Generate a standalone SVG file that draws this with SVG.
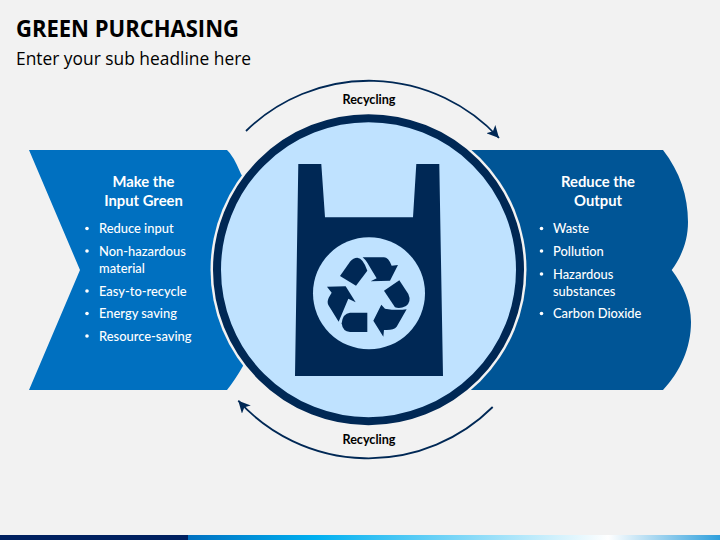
<svg xmlns="http://www.w3.org/2000/svg" width="720" height="540" viewBox="0 0 720 540">
<style>
text{font-family:"Lato","Carlito","Liberation Sans",sans-serif;}
.h{font-weight:700;font-size:14.8px;fill:#fff;text-anchor:middle}
.b{font-size:12.9px;fill:#fff;font-weight:500}
.l{font-weight:700;font-size:12.6px;fill:#000;text-anchor:middle}
.arc{fill:none;stroke:#002855;stroke-width:1.8;marker-end:url(#ah)}
.d{fill:#002855}
</style>
<defs>
<linearGradient id="g" x1="188" x2="720" y1="0" y2="0" gradientUnits="userSpaceOnUse">
<stop offset="0" stop-color="#0070c0"/><stop offset="0.24" stop-color="#00b0f0"/><stop offset="0.79" stop-color="#ffffff"/><stop offset="1" stop-color="#2e9fdc"/>
</linearGradient>
<marker id="ah" markerWidth="12" markerHeight="12" refX="10" refY="5" orient="auto" markerUnits="userSpaceOnUse" viewBox="0 0 10 10"><path d="M0 0L10 5L0 10L2.500 5Z" fill="#002855"/></marker>
</defs>
<rect width="720" height="540" fill="#f2f2f2"/>
<rect x="0" y="535" width="188" height="5" fill="#002060"/>
<rect x="188" y="535" width="532" height="5" fill="url(#g)"/>
<text x="16" y="36.500" font-size="23.500" font-weight="700" fill="#000" textLength="223" lengthAdjust="spacingAndGlyphs" style="font-family:'Open Sans',sans-serif">GREEN PURCHASING</text>
<text x="16" y="65" font-size="17.500" fill="#000" textLength="235" lengthAdjust="spacingAndGlyphs" style="font-family:'Open Sans',sans-serif">Enter your sub headline here</text>
<g id="connectors">
<path class="arc" d="M246 131A176 176 0 0 1 499 138"/>
<path class="arc" d="M492.700 407A176 176 0 0 1 238.300 400.700"/>
</g>
<g id="node-left">
<path d="M29 150H227Q233 155 241 174L300 270L243 366Q235 380 227 390H29L80 270Z" fill="#0070c0"/>
<text class="h" x="143.500" y="187">Make the</text><text class="h" x="143.500" y="206">Input Green</text>
<circle cx="87" cy="228.500" r="1.800" fill="#fff"/><text class="b" x="99" y="233">Reduce input</text>
<circle cx="87" cy="251" r="1.800" fill="#fff"/><text class="b" x="99" y="256">Non-hazardous</text><text class="b" x="99" y="273">material</text>
<circle cx="87" cy="291" r="1.800" fill="#fff"/><text class="b" x="99" y="296">Easy-to-recycle</text>
<circle cx="87" cy="313.500" r="1.800" fill="#fff"/><text class="b" x="99" y="318">Energy saving</text>
<circle cx="87" cy="336" r="1.800" fill="#fff"/><text class="b" x="99" y="341">Resource-saving</text>
</g>
<g id="node-right">
<path d="M440 150H663C680 172 688 196 688 222C688 240 682 256 671.700 270C683 285 691 302 691 322C691 348 680 372 663 390H440Z" fill="#005596"/>
<text class="h" x="598" y="187">Reduce the</text><text class="h" x="598" y="206">Output</text>
<circle cx="541.500" cy="228.500" r="1.800" fill="#fff"/><text class="b" x="553" y="233">Waste</text>
<circle cx="541.500" cy="251" r="1.800" fill="#fff"/><text class="b" x="553" y="256">Pollution</text>
<circle cx="541.500" cy="274" r="1.800" fill="#fff"/><text class="b" x="553" y="279">Hazardous</text><text class="b" x="553" y="296">substances</text>
<circle cx="541.500" cy="313.500" r="1.800" fill="#fff"/><text class="b" x="553" y="318">Carbon Dioxide</text>
</g>
<g id="node-center">
<circle cx="368.500" cy="269.700" r="158" fill="#f2f2f2"/>
<circle cx="368.500" cy="269.700" r="151.500" fill="#bfe2ff" stroke="#002855" stroke-width="8"/>
<path class="d" d="M298.300 164H321.300L325 217.300H413L416.300 164H439.300L443 376H295Z"/>
<circle cx="369" cy="293.300" r="56" fill="#bfe2ff"/>
<g class="d" transform="translate(280 150) scale(0.3333)">
<path d="M180 378L210 335Q220 323 232 323Q250 325 262 362L228 407Z"/>
<path d="M248 322H312Q325 322 335 347L354 345L330 392L272 394L290 385Q275 360 262 338Q255 328 248 322Z"/>
<path d="M312 422L358 391L385 432Q395 455 378 468Q360 478 345 472Z"/>
<path d="M380 478L350 530Q342 540 320 540H312L310 560L280 512L304 464L315 476Q350 482 380 478Z"/>
<path d="M262 488V546H210Q188 545 185 520Q188 490 210 488Z"/>
<path d="M176 515L145 465Q140 455 147 442L155 428L141 410L197 409L227 457L205 446Z"/>
</g>
</g>
<text class="l" x="369" y="104">Recycling</text>
<text class="l" x="369" y="444">Recycling</text>
</svg>
